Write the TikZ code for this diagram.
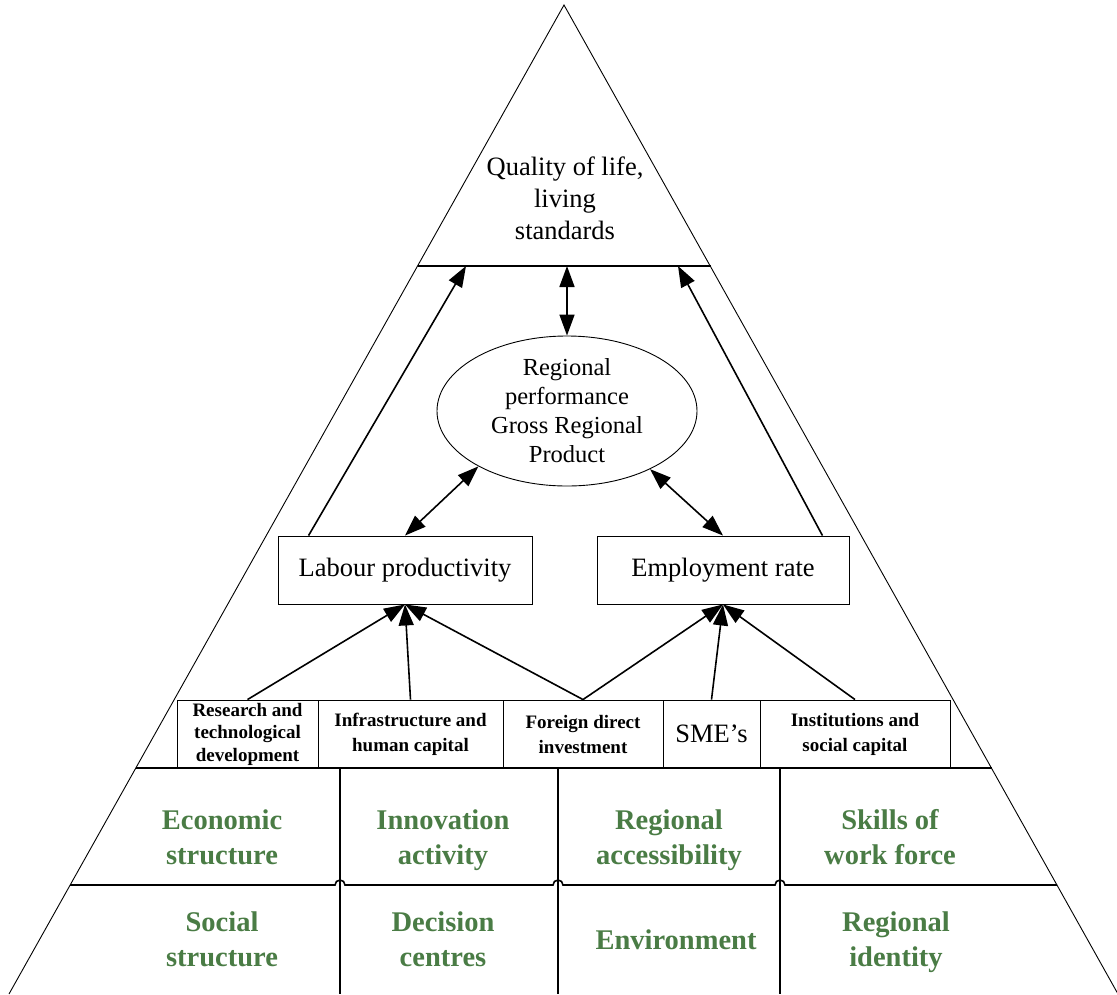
\documentclass[tikz,border=0pt]{standalone}
\usepackage{fontspec}
\setmainfont{Liberation Serif}
\usetikzlibrary{arrows.meta,shapes.geometric,calc}
\definecolor{cellgreen}{RGB}{74,124,69}
\begin{document}
\begin{tikzpicture}[x=1pt,y=-1pt,
  side/.style={line width=0.9pt},
  rule/.style={line width=1.6pt},
  box/.style={draw,line width=0.9pt,inner sep=0pt,align=center},
  bigtxt/.style={font=\fontsize{26.5}{32}\selectfont},
  smalltxt/.style={font=\bfseries\fontsize{19}{25}\selectfont},
  celltxt/.style={align=center,text=cellgreen,font=\bfseries\fontsize{28.5}{35}\selectfont},
  strutted/.style={execute at end node=\strut},
  arr/.style={line width=1.6pt,-{Triangle[length=21pt,width=15pt]}},
  darr/.style={line width=1.6pt,{Triangle[length=21pt,width=15pt]}-{Triangle[length=21pt,width=15pt]}}
]
\useasboundingbox (0,0) rectangle (1117,994);
% outer triangle
\coordinate (apex) at (564,5);
\coordinate (bl) at (9,994);
\coordinate (br) at (1118,994);
\draw[side] (bl) -- (apex) -- (br);
% top rule
\coordinate (hl) at (417.5,266);
\coordinate (hr) at (710.5,266);
\draw[rule] (hl) -- (hr);
\coordinate (tl) at (466,266);
\coordinate (tm) at (567,266);
\coordinate (tr) at (678,266);
% lower grid
\draw[rule] (135.8,768) -- (992,768);
\draw[rule] (70,885) -- (335,885) arc[start angle=180,end angle=0,radius=5pt]
  -- (553,885) arc[start angle=180,end angle=0,radius=5pt]
  -- (775,885) arc[start angle=180,end angle=0,radius=5pt] -- (1057,885);
\draw[rule] (340,768) -- (340,994);
\draw[rule] (558,768) -- (558,994);
\draw[rule] (780,768) -- (780,994);
% top text
\node[bigtxt,align=center] (qol) at (565,198) {Quality of life,\\living\\standards};
% ellipse
\node[draw,ellipse,line width=0.9pt,minimum width=260pt,minimum height=150pt,inner sep=0pt,
  align=center,font=\fontsize{24.5}{29}\selectfont] (ell) at (567,411)
  {Regional\\performance\\Gross Regional\\Product};
% middle boxes
\node[box,bigtxt,minimum width=254pt,minimum height=68pt] (lab) at (405,570) {Labour productivity};
\node[box,bigtxt,minimum width=252pt,minimum height=68pt] (emp) at (723,570) {Employment rate};
% factor boxes
\node[box,minimum width=141pt,minimum height=68pt,font=\bfseries\fontsize{19}{22.5}\selectfont] (rtd) at (247.5,734) {Research and\\technological\\development};
\node[box,smalltxt,minimum width=185pt,minimum height=68pt] (inf) at (410.5,734) {Infrastructure and\\human capital};
\node[box,smalltxt,minimum width=160pt,minimum height=68pt] (fdi) at (583,734) {Foreign direct\\investment};
\node[box,bigtxt,minimum width=97pt,minimum height=68pt] (sme) at (711.5,734) {SME’s};
\node[box,smalltxt,minimum width=190pt,minimum height=68pt] (ins) at (855,734) {Institutions and\\social capital};
% arrows
\draw[arr] ($(lab.north west)+(31,0)$) -- (tl);
\draw[arr] ($(emp.north east)+(-27,0)$) -- (tr);
\draw[darr] (tm) -- (ell.north);
\draw[darr] (lab.north) -- (ell.212);
\draw[darr] (ell.325) -- (emp.north);
\draw[arr] (rtd.north) -- (lab.south);
\draw[arr] (inf.north) -- (lab.south);
\draw[arr] (fdi.north) -- (lab.south);
\draw[arr] (fdi.north) -- (emp.south);
\draw[arr] (sme.north) -- (emp.south);
\draw[arr] (ins.north) -- (emp.south);
% cell labels
\node[celltxt,strutted] (c1) at (222,842) {Economic\\structure};
\node[celltxt,strutted] (c2) at (443,842) {Innovation\\activity};
\node[celltxt,strutted] (c3) at (669,842) {Regional\\accessibility};
\node[celltxt,strutted] (c4) at (890,842) {Skills of\\work force};
\node[celltxt,strutted] (c5) at (222,944) {Social\\structure};
\node[celltxt,strutted] (c6) at (443,944) {Decision\\centres};
\node[celltxt] (c7) at (676,940) {Environment};
\node[celltxt,strutted] (c8) at (896,944) {Regional\\identity};
\end{tikzpicture}
\end{document}
